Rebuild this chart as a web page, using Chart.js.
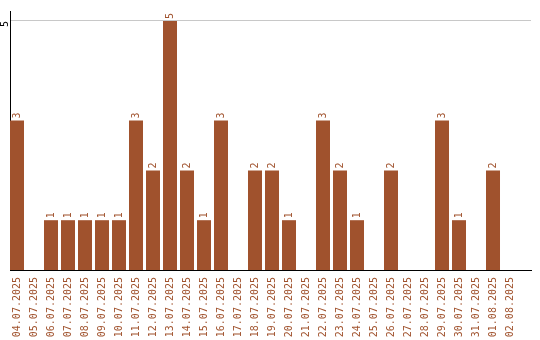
<!DOCTYPE html>
<html>
<head>
<meta charset="utf-8">
<script src="https://cdn.jsdelivr.net/npm/chart.js@4/dist/chart.umd.min.js"></script>
<style>
  html, body { margin: 0; padding: 0; background: #fff; }
  #wrap { width: 540px; height: 340px; }
</style>
</head>
<body>
<div id="wrap"><canvas id="daysChart"></canvas></div>
<script>
// days and counts
var days = ['04.07.2025', '05.07.2025', '06.07.2025', '07.07.2025', '08.07.2025', '09.07.2025',
  '10.07.2025', '11.07.2025', '12.07.2025', '13.07.2025', '14.07.2025', '15.07.2025',
  '16.07.2025', '17.07.2025', '18.07.2025', '19.07.2025', '20.07.2025', '21.07.2025',
  '22.07.2025', '23.07.2025', '24.07.2025', '25.07.2025', '26.07.2025', '27.07.2025',
  '28.07.2025', '29.07.2025', '30.07.2025', '31.07.2025', '01.08.2025', '02.08.2025'];
var counts = [3, 0, 1, 1, 1, 1, 1, 3, 2, 5, 2, 1, 3, 0, 2, 2, 1, 0, 3, 2, 1, 0, 2, 0, 0, 3, 1, 0, 2, 0];
var yTicks = [5];

var barColor = '#a0522d';
var labelFont = { family: 'DejaVu Sans Mono', size: 10 };

var points = counts.map(function (v, i) { return { x: i, y: v }; });

// value labels on top of the bars
var valueLabels = {
  id: 'valueLabels',
  afterDatasetsDraw: function (chart) {
    var ctx = chart.ctx;
    var meta = chart.getDatasetMeta(0);
    ctx.save();
    ctx.fillStyle = barColor;
    ctx.font = labelFont.size + 'px "' + labelFont.family + '"';
    ctx.textAlign = 'left';
    ctx.textBaseline = 'middle';
    meta.data.forEach(function (bar, i) {
      if (!counts[i]) return;
      ctx.save();
      ctx.translate(bar.x, bar.y - 2);
      ctx.rotate(-Math.PI / 2);
      ctx.fillText(counts[i], 0, 0);
      ctx.restore();
    });
    ctx.restore();
  }
};

var ctx = document.getElementById('daysChart').getContext('2d');
var daysChart = new Chart(ctx, {
  type: 'bar',
  data: {
    datasets: [{
      data: points,
      backgroundColor: barColor,
      borderWidth: 0,
      categoryPercentage: 1,
      barPercentage: 0.8235
    }]
  },
  options: {
    responsive: true,
    maintainAspectRatio: false,
    animation: false,
    layout: { padding: { top: 10, right: 9, left: 0, bottom: 0 } },
    plugins: { legend: { display: false }, tooltip: { enabled: false } },
    scales: {
      x: {
        type: 'linear',
        bounds: 'data',
        offset: false,
        min: -0.4118,
        max: 30.235,
        grid: { display: false, drawTicks: false },
        border: { display: true, color: '#000', width: 1 },
        ticks: {
          autoSkip: false,
          minRotation: 90,
          maxRotation: 90,
          padding: 7,
          color: barColor,
          font: labelFont,
          callback: function (value) {
            return days[Math.round(value)] || '';
          }
        },
        afterBuildTicks: function (scale) {
          scale.ticks = days.map(function (d, i) { return { value: i }; });
        },
        afterFit: function (scale) {
          scale.height = 70;
          scale.paddingLeft = 0;
          scale.paddingRight = 0;
        }
      },
      y: {
        min: 0,
        max: 5.2,
        grid: { color: '#c8c8c8', drawTicks: false },
        border: { display: true, color: '#000', width: 1 },
        ticks: {
          minRotation: 90,
          maxRotation: 90,
          padding: 5,
          color: '#000',
          font: labelFont
        },
        afterBuildTicks: function (scale) {
          scale.ticks = yTicks.map(function (v) { return { value: v }; });
        },
        afterFit: function (scale) { scale.width = 10; }
      }
    }
  },
  plugins: [valueLabels]
});
</script>
</body>
</html>
